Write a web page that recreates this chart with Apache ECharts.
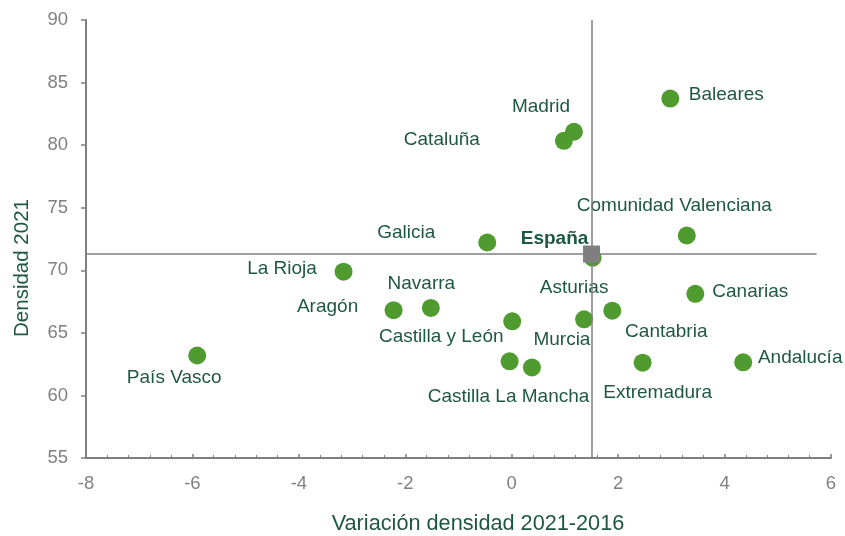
<!DOCTYPE html>
<html>
<head>
<meta charset="utf-8">
<script src="https://cdn.jsdelivr.net/npm/echarts@6/dist/echarts.min.js"></script>
<style>html,body{margin:0;padding:0;background:#fff;overflow:hidden}#c{width:845px;height:536px}</style>
</head>
<body>
<div id="c"></div>
<script>
// Data
const regions = ['Baleares','Madrid','Cataluña','Comunidad Valenciana','Galicia','La Rioja','Navarra','Aragón','Castilla y León','Asturias','Murcia','Cantabria','Extremadura','Castilla La Mancha','Canarias','Andalucía','País Vasco'];
const variacion = [2.98, 1.17, 0.98, 3.29, -0.46, -3.16, -1.52, -2.22, 0.01, 1.36, 0.38, 1.89, 2.46, -0.04, 3.45, 4.35, -5.91];
const densidad = [83.72, 81.07, 80.35, 72.78, 72.22, 69.89, 66.99, 66.81, 65.92, 66.08, 62.24, 66.77, 62.62, 62.73, 68.12, 62.65, 63.19];
const espanaName = 'España';
const espanaVar = 1.5;
const espanaDen = 71.3;
const espanaDotVar = 1.52;
const espanaDotDen = 71.01;
const xTicks = [-8, -6, -4, -2, 0, 2, 4, 6];
const yTicks = [55, 60, 65, 70, 75, 80, 85, 90];
const hLineEnd = 5.73;
const xTitle = 'Variación densidad 2021-2016';
const yTitle = 'Densidad 2021';

// Label layout (style, not data)
const labelOffsets = {
  'Baleares':[56,-4],'Madrid':[-33,-25],'Cataluña':[-122,-1],'Comunidad Valenciana':[-12.5,-30],
  'Galicia':[-81,-10],'La Rioja':[-61.5,-3],'Navarra':[-9.5,-24],'Aragón':[-66,-3],
  'Castilla y León':[-71,15],'Asturias':[-10,-32],'Murcia':[30,-28],'Cantabria':[54,21],
  'Extremadura':[15,30],'Castilla La Mancha':[-1,36],'Canarias':[55,-2],'Andalucía':[57,-5],
  'País Vasco':[-23,22]
};

const GREEN = '#4f9b2f';
const LABEL = '#1f5842';
const GREY = '#7f7f7f';
const FONT = '"Liberation Sans", Arial, sans-serif';

const pts = regions.map((n, i) => ({
  name: n,
  value: [variacion[i], densidad[i]],
  label: {show: true, formatter: n, position: 'inside', align: 'center', verticalAlign: 'middle',
          offset: labelOffsets[n], color: LABEL, fontSize: 19, fontFamily: FONT}
}));
pts.push({name: espanaName + ' ', value: [espanaDotVar, espanaDotDen], label: {show: false}});

const chart = echarts.init(document.getElementById('c'), null, {renderer: 'canvas'});
chart.setOption({
  animation: false,
  backgroundColor: '#fff',
  grid: {left: 86, right: 14, top: 20, bottom: 78, containLabel: false},
  graphic: [
    {type: 'text', silent: true, x: 478, y: 524, style: {
      text: xTitle, fill: LABEL, fontSize: 21.7, fontFamily: FONT, align: 'center', verticalAlign: 'middle'}},
    {type: 'text', silent: true, x: 22, y: 268, rotation: Math.PI / 2, style: {
      text: yTitle, fill: LABEL, fontSize: 20.5, fontFamily: FONT, align: 'center', verticalAlign: 'middle'}}
  ],
  xAxis: {
    type: 'value', min: xTicks[0], max: xTicks[xTicks.length - 1], interval: 2,
    axisLine: {show: true, onZero: false, lineStyle: {color: GREY, width: 2}},
    axisTick: {show: true, inside: true, length: 4, lineStyle: {color: GREY, width: 1.5}},
    minorTick: {show: true, splitNumber: 5, length: 3, lineStyle: {color: GREY, width: 1}},
    axisLabel: {color: '#808080', fontSize: 18.5, fontFamily: FONT, margin: 16},
    splitLine: {show: false}
  },
  yAxis: {
    type: 'value', min: yTicks[0], max: yTicks[yTicks.length - 1], interval: 5,
    axisLine: {show: true, onZero: false, lineStyle: {color: GREY, width: 2}},
    axisTick: {show: true, inside: false, length: 5, lineStyle: {color: GREY, width: 1.5}},
    axisLabel: {color: '#808080', fontSize: 18.5, fontFamily: FONT, margin: 18},
    splitLine: {show: false}
  },
  series: [
    {
      type: 'scatter', name: 'ref', data: [], z: 1, silent: true,
      markLine: {
        silent: true, symbol: 'none', animation: false,
        label: {show: false},
        lineStyle: {color: GREY, width: 1.5, type: 'solid'},
        data: [
          {xAxis: espanaVar},
          [{coord: [xTicks[0], espanaDen]}, {coord: [hLineEnd, espanaDen]}]
        ]
      }
    },
    {
      type: 'scatter', name: 'CCAA', symbol: 'circle', symbolSize: 18, z: 3,
      itemStyle: {color: GREEN, opacity: 1},
      data: pts
    },
    {
      type: 'scatter', name: espanaName, symbol: 'rect', symbolSize: 17, z: 4,
      itemStyle: {color: GREY, opacity: 1},
      label: {show: true, formatter: espanaName, position: 'inside', align: 'center', verticalAlign: 'middle',
              offset: [-37, -15.5], color: LABEL, fontSize: 19, fontWeight: 'bold', fontFamily: FONT},
      data: [[espanaVar, espanaDen]]
    }
  ]
});
</script>
</body>
</html>
